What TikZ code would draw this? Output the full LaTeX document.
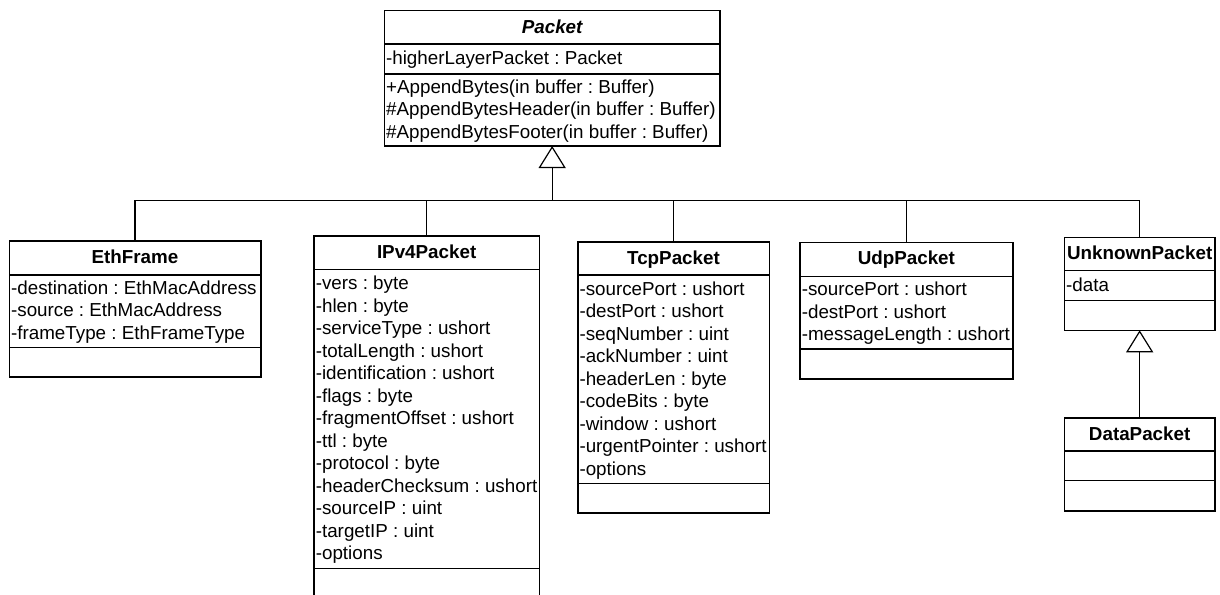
\documentclass[tikz,border=0pt]{standalone}
\usepackage{fontspec}
\setmainfont{Liberation Sans}
\usetikzlibrary{arrows.meta}
\frenchspacing
\newcommand\umlfont{\fontsize{18.8pt}{22.5pt}\selectfont\frenchspacing}
\newcommand\umlattrs[4]{%
  \foreach \t [count=\i] in {#4}
    \node[attr] (#1\i) at (#2, #3+22.5*\i-22.5) {\t};}
\begin{document}
\begin{tikzpicture}[x=1pt,y=-1pt,
  box/.style={draw, line width=1.6pt, inner sep=0pt, outer sep=0pt, anchor=north west},
  sepline/.style={line width=1.5pt},
  ttl/.style={font=\umlfont\bfseries, inner sep=0pt, anchor=base},
  attr/.style={font=\umlfont, inner sep=0pt, anchor=base west},
  link/.style={line width=1.2pt},
  inh/.style={link, -{Triangle[open, length=22pt, width=27pt]}}
]
\path[use as bounding box] (0,0) rectangle (1220,594);
\begin{scope}
\clip (0,0) rectangle (1220,594);

% Packet
\node[box, minimum width=335.7pt, minimum height=135.3pt] (pkt) at (384.3,10.7) {};
\draw[sepline] (384.3,44) -- (720,44);
\draw[sepline] (384.3,74) -- (720,74);
\node[ttl, font=\umlfont\bfseries\itshape] (pkt-t) at (552.15,33.2) {Packet};
\umlattrs{pkt-a}{385.9}{64.5}{-higherLayerPacket : Packet}
\umlattrs{pkt-m}{385.9}{93}{+AppendBytes(in buffer : Buffer),\#AppendBytesHeader(in buffer : Buffer),\#AppendBytesFooter(in buffer : Buffer)}

% EthFrame
\node[box, minimum width=251.4pt, minimum height=136pt] (eth) at (9.3,240.7) {};
\draw[sepline] (9.3,275) -- (260.7,275);
\draw[sepline] (9.3,347.7) -- (260.7,347.7);
\node[ttl] (eth-t) at (135,263.2) {EthFrame};
\umlattrs{eth-a}{10.9}{294.2}{-destination : EthMacAddress,-source : EthMacAddress,-frameType : EthFrameType}

% IPv4Packet
\node[box, minimum width=225.3pt, minimum height=364.3pt] (ip) at (314,235.7) {};
\draw[sepline] (314,269.3) -- (539.3,269.3);
\draw[sepline] (314,568.3) -- (539.3,568.3);
\node[ttl] (ip-t) at (426.65,258.2) {IPv4Packet};
\umlattrs{ip-a}{315.6}{289.8}{-vers : byte,-hlen : byte,-serviceType : ushort,-totalLength : ushort,-identification : ushort,-flags : byte,-fragmentOffset : ushort,-ttl : byte,-protocol : byte,-headerChecksum : ushort,-sourceIP : uint,-targetIP : uint,-options}

% TcpPacket
\node[box, minimum width=191.6pt, minimum height=271.3pt] (tcp) at (577.7,241.7) {};
\draw[sepline] (577.7,275) -- (769.3,275);
\draw[sepline] (577.7,483.7) -- (769.3,483.7);
\node[ttl] (tcp-t) at (673.5,264.2) {TcpPacket};
\umlattrs{tcp-a}{579.3}{295.2}{-sourcePort : ushort,-destPort : ushort,-seqNumber : uint,-ackNumber : uint,-headerLen : byte,-codeBits : byte,-window : ushort,-urgentPointer : ushort,-options}

% UdpPacket
\node[box, minimum width=212.7pt, minimum height=136.4pt] (udp) at (800,242.3) {};
\draw[sepline] (800,276.7) -- (1012.7,276.7);
\draw[sepline] (800,349) -- (1012.7,349);
\node[ttl] (udp-t) at (906.35,264.8) {UdpPacket};
\umlattrs{udp-a}{801.6}{295.5}{-sourcePort : ushort,-destPort : ushort,-messageLength : ushort}

% UnknownPacket
\node[box, minimum width=150.7pt, minimum height=93pt] (unk) at (1064.3,237.3) {};
\draw[sepline] (1064.3,270.7) -- (1215,270.7);
\draw[sepline] (1064.3,300.3) -- (1215,300.3);
\node[ttl] (unk-t) at (1139.65,259.8) {UnknownPacket};
\umlattrs{unk-a}{1065.9}{291.8}{-data}

% DataPacket
\node[box, minimum width=150.7pt, minimum height=93pt] (data) at (1064.3,417.7) {};
\draw[sepline] (1064.3,451) -- (1215,451);
\draw[sepline] (1064.3,480.7) -- (1215,480.7);
\node[ttl] (data-t) at (1139.65,440.2) {DataPacket};

% generalisation connectors
\coordinate (bus) at (552.15,200.5);
\draw[inh] (bus) -- (pkt.south);
\draw[link] (eth.north) |- (bus) -| (unk.north);
\draw[link] (ip.north) -- (ip.north |- bus);
\draw[link] (tcp.north) -- (tcp.north |- bus);
\draw[link] (udp.north) -- (udp.north |- bus);
\draw[inh] (data.north) -- (unk.south);
\end{scope}
\end{tikzpicture}
\end{document}
